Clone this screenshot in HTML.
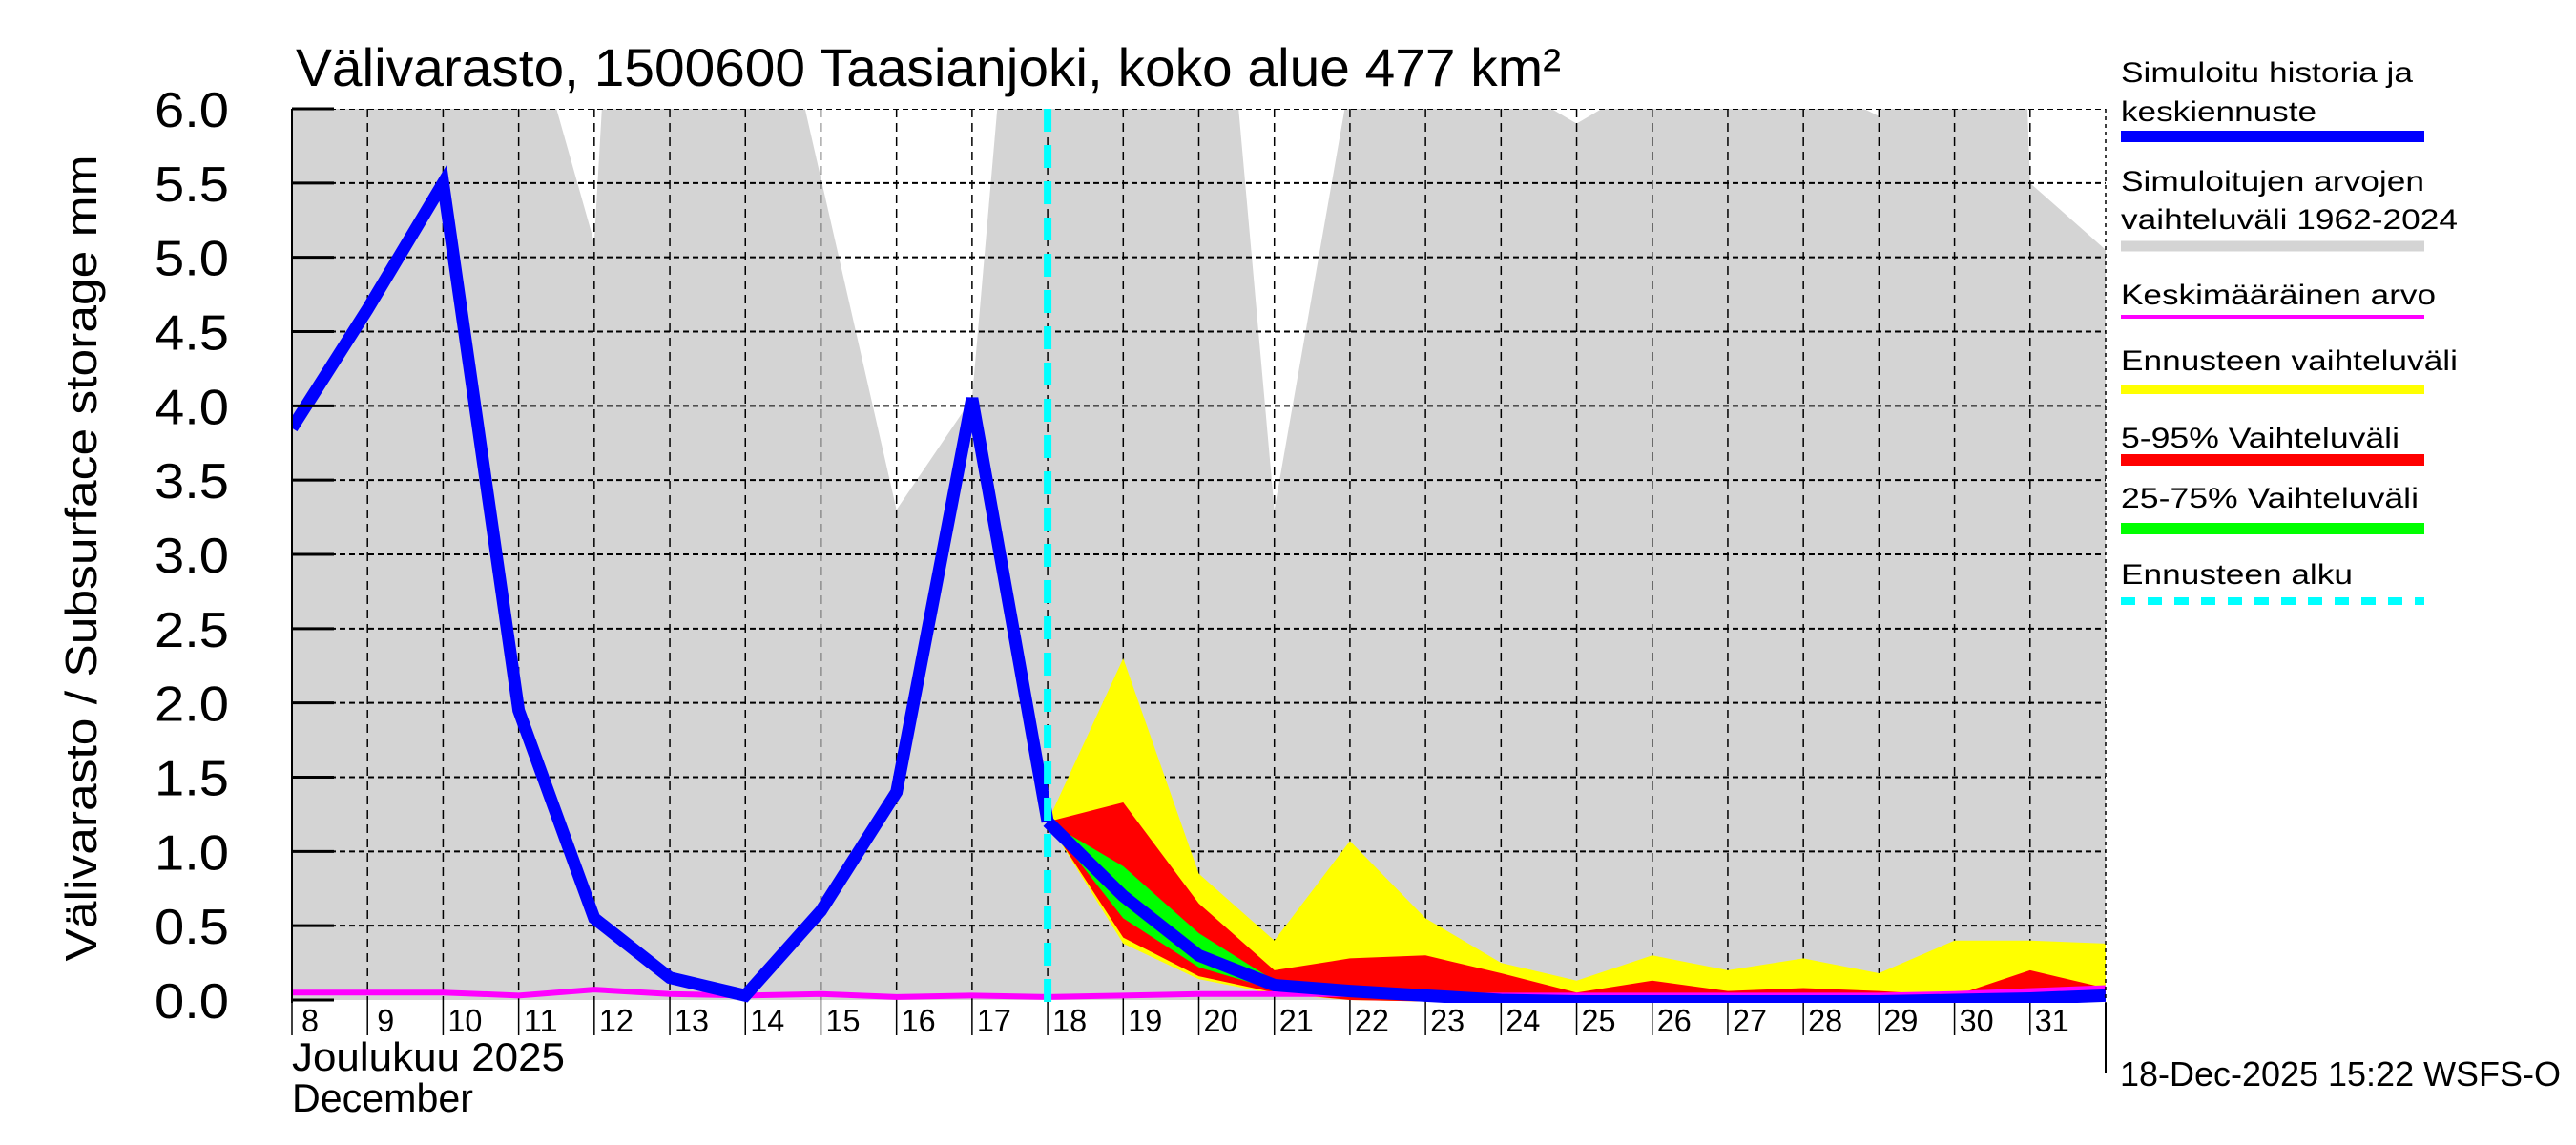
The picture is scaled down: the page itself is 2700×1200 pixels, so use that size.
<!DOCTYPE html>
<html><head><meta charset="utf-8"><style>
html,body{margin:0;padding:0;background:#fff;}
svg{display:block;font-family:"Liberation Sans",sans-serif;}
</style></head><body>
<svg id="chart" width="2700" height="1200" viewBox="0 0 2700 1200" xmlns="http://www.w3.org/2000/svg">
<text x="310" y="90" font-size="56" textLength="1326" lengthAdjust="spacingAndGlyphs">Välivarasto, 1500600 Taasianjoki, koko alue 477 km²</text>
<text transform="translate(101,585) rotate(-90)" text-anchor="middle" font-size="46" textLength="845" lengthAdjust="spacingAndGlyphs">Välivarasto / Subsurface storage  mm</text>
<g id="plot"></g>
<g id="legend"></g>
<text x="306" y="1122" font-size="42" textLength="286" lengthAdjust="spacingAndGlyphs">Joulukuu  2025</text>
<text x="306" y="1165" font-size="42" textLength="190" lengthAdjust="spacingAndGlyphs">December</text>
<line x1="2207" y1="1051" x2="2207" y2="1125" stroke="#000" stroke-width="2"/>
<text x="2222" y="1138" font-size="36" textLength="462" lengthAdjust="spacingAndGlyphs">18-Dec-2025 15:22 WSFS-O</text>
</svg>
<script>
// day offsets from Dec 8 (0..24)
const days = [0,1,2,3,4,5,6,7,8,9,10,11,12,13,14,15,16,17,18,19,20,21,22,23,24];
const dayLabels = ["8","9","10","11","12","13","14","15","16","17","18","19","20","21","22","23","24","25","26","27","28","29","30","31"];
const yTicks = [0,0.5,1,1.5,2,2.5,3,3.5,4,4.5,5,5.5,6];
const yTickLabels = ["0.0","0.5","1.0","1.5","2.0","2.5","3.0","3.5","4.0","4.5","5.0","5.5","6.0"];
const histMax = [9,9,9,6.9,5.1,14,7.76,5.53,3.3,4.05,9.9,9,9,3.3,6.2,6.2,6.2,5.9,6.2,6.2,6.2,5.95,20,5.5,5.05];
const histMin = [0,0,0,0,0,0,0,0,0,0,0,0,0,0,0,0,0,0,0,0,0,0,0,0,0];
const meanVals = [0.05,0.05,0.05,0.03,0.07,0.04,0.03,0.04,0.02,0.03,0.02,0.03,0.04,0.04,0.04,0.03,0.03,0.03,0.03,0.03,0.03,0.03,0.04,0.06,0.08];
const histDays = [0,1,2,3,4,5,6,7,8,9,10];
const histVals = [3.85,4.65,5.5,1.95,0.55,0.15,0.03,0.6,1.4,4.05,1.2];
const fcDays = [10,11,12,13,14,15,16,17,18,19,20,21,22,23,24];
const medianVals = [1.2,0.7,0.3,0.1,0.06,0.03,0.0,-0.01,-0.01,-0.01,-0.01,-0.01,0.0,0.01,0.03];
const yellowMax = [1.2,2.3,0.85,0.4,1.07,0.55,0.25,0.13,0.3,0.2,0.28,0.18,0.4,0.4,0.38];
const yellowMin = [1.2,0.38,0.14,0.04,0.0,-0.01,-0.02,-0.02,-0.02,-0.02,-0.02,-0.02,-0.02,-0.01,0.0];
const redMax = [1.2,1.33,0.65,0.2,0.28,0.3,0.18,0.05,0.13,0.06,0.08,0.06,0.03,0.2,0.08];
const redMin = [1.2,0.42,0.16,0.05,0.0,-0.01,-0.02,-0.02,-0.02,-0.02,-0.02,-0.02,-0.02,-0.01,0.0];
const greenMax = [1.2,0.9,0.45,0.13,0.08,0.05,0.02,0.0,0.0,0.0,0.0,0.0,0.01,0.02,0.04];
const greenMin = [1.2,0.55,0.22,0.07,0.04,0.01,-0.01,-0.01,-0.01,-0.01,-0.01,-0.01,0.0,0.01,0.02];
const forecastStartDay = 10;

const NS="http://www.w3.org/2000/svg";
const L=306, R=2207, T=114, B=1051, Y0=1048, PXU=155.67, DW=(R-L)/24;
const xs = d => L + d*DW;
const ys = v => Y0 - v*PXU;
const plot=document.getElementById('plot');
function mk(tag,attrs,parent){const e=document.createElementNS(NS,tag);for(const k in attrs)e.setAttribute(k,attrs[k]);(parent||plot).appendChild(e);return e;}
const defs=mk('defs',{});
const cp=mk('clipPath',{id:'clip'},defs);mk('rect',{x:L,y:T,width:R-L,height:B-T},cp);
const g=mk('g',{'clip-path':'url(#clip)'});
mk('rect',{x:L,y:T,width:R-L,height:B-T,fill:'#fff'},g);
function band(xd,hi,lo,fill,name){
  let p=xd.map((d,i)=>xs(d)+','+ys(hi[i]));
  for(let i=xd.length-1;i>=0;i--)p.push(xs(xd[i])+','+ys(lo[i]));
  const e=mk('polygon',{points:p.join(' '),fill:fill},g);
  
  
}
band(days,histMax,histMin,'#d4d4d4','historical-range-band');
yTicks.forEach((v,i)=>{ if(i>0){const l=mk('line',{x1:L,x2:R,y1:ys(v),y2:ys(v),stroke:'#000','stroke-width':2,'stroke-dasharray':'6,4'},g);
  
  }});
days.forEach(d=>{ if(d>0&&d<24){const l=mk('line',{x1:xs(d),x2:xs(d),y1:T,y2:B,stroke:'#000','stroke-width':1.5,'stroke-dasharray':'9,6'},g);
  
  }});
band(fcDays,yellowMax,yellowMin,'#ffff00','forecast-range-band');
band(fcDays,redMax,redMin,'#ff0000','band-5-95');
band(fcDays,greenMax,greenMin,'#00ff00','band-25-75');
function line(xd,vals,color,w,name){
  const e=mk('polyline',{points:xd.map((d,i)=>xs(d)+','+ys(vals[i])).join(' '),fill:'none',stroke:color,'stroke-width':w,'stroke-linejoin':'miter'},g);
  
  
}
line(days,meanVals,'#ff00ff',6,'mean-line');
line(fcDays,medianVals,'#0000ff',13,'forecast-median-line');
line(histDays,histVals,'#0000ff',13,'history-line');
const fs=mk('line',{x1:xs(forecastStartDay),x2:xs(forecastStartDay),y1:T,y2:B,stroke:'#00ffff','stroke-width':8,'stroke-dasharray':'24,14'},g);


mk('line',{x1:L,x2:L,y1:T,y2:B,stroke:'#000','stroke-width':2});
mk('line',{x1:R,x2:R,y1:T,y2:B,stroke:'#000','stroke-width':1.5,'stroke-dasharray':'4,4'});
yTicks.forEach((v,i)=>{
  mk('line',{x1:L,x2:L+44,y1:ys(v),y2:ys(v),stroke:'#000','stroke-width':3});
  const t=mk('text',{x:240,y:ys(v)+19,'text-anchor':'end','font-size':52,textLength:78,lengthAdjust:'spacingAndGlyphs'});
  t.textContent=yTickLabels[i];
  
  
});
dayLabels.forEach((s,i)=>{
  mk('line',{x1:xs(i),x2:xs(i),y1:B,y2:B+34,stroke:'#000','stroke-width':1.5});
  const t=mk('text',{x:xs(i)+ (s.length>1?5:10),y:1081,'font-size':33,textLength:s.length>1?36:18,lengthAdjust:'spacingAndGlyphs'});
  t.textContent=s;
  
  
});
const leg=document.getElementById('legend');
const LX=2223, LW=318;
function ltext(s,y,w){const t=mk('text',{x:LX,y:y,'font-size':30,textLength:w,lengthAdjust:'spacingAndGlyphs'},leg);t.textContent=s;
  
  }
function lbar(y,h,color,name,dash){const e=mk('line',{x1:LX,x2:LX+LW,y1:y,y2:y,stroke:color,'stroke-width':h},leg);if(dash)e.setAttribute('stroke-dasharray',dash);
  
  }
ltext('Simuloitu historia ja',86,306); ltext('keskiennuste',127,205); lbar(143,12,'#0000ff','legend-history-swatch');
ltext('Simuloitujen arvojen',200,318); ltext('vaihteluväli 1962-2024',240,353); lbar(258,11,'#d4d4d4','legend-range-swatch');
ltext('Keskimääräinen arvo',319,330); lbar(332,4,'#ff00ff','legend-mean-swatch');
ltext('Ennusteen vaihteluväli',388,353); lbar(408,10,'#ffff00','legend-forecast-range-swatch');
ltext('5-95% Vaihteluväli',469,292); lbar(482,12,'#ff0000','legend-5-95-swatch');
ltext('25-75% Vaihteluväli',532,312); lbar(554,12,'#00ff00','legend-25-75-swatch');
ltext('Ennusteen alku',612,243); lbar(630,8,'#00ffff','legend-forecast-start-swatch','15,13');
</script>
</body></html>
